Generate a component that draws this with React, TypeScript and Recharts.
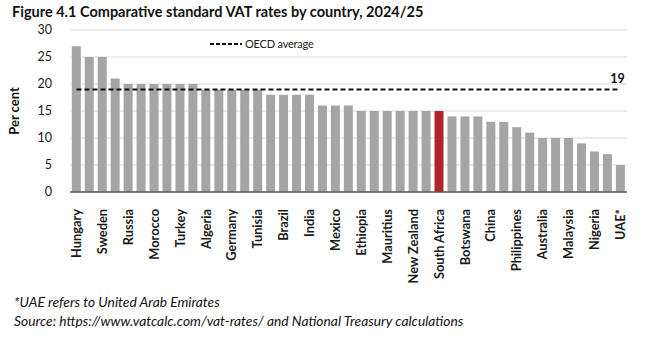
import { Bar, CartesianGrid, Cell, LabelList, Legend, Line, XAxis, YAxis, ComposedChart } from "recharts";

// Only every second bar is named in the source figure
const countries = [
  "Hungary", "", "Sweden", "", "Russia", "", "Morocco", "", "Turkey", "", "Algeria",
  "", "Germany", "", "Tunisia", "", "Brazil", "", "India", "", "Mexico", "",
  "Ethiopia", "", "Mauritius", "", "New Zealand", "", "South Africa", "", "Botswana",
  "", "China", "", "Philippines", "", "Australia", "", "Malaysia", "", "Nigeria", "", "UAE*",
];

const vatRates = [
  27, 25, 25, 21, 20, 20, 20, 20, 20, 20, 19,
  19, 19, 19, 19, 18, 18, 18, 18, 16, 16, 16,
  15, 15, 15, 15, 15, 15, 15, 14, 14,
  14, 13, 13, 12, 11, 10, 10, 10, 9, 7.5, 7, 5,
];

const oecdAverage = 19;
const highlight = "South Africa";
const yTicks = [0, 5, 10, 15, 20, 25, 30];

const data = countries.map((country, i) => ({
  country,
  rate: vatRates[i],
  oecd: oecdAverage,
}));

const FONT = "Lato, 'Open Sans', sans-serif";

const CountryTick = (props: any) => {
  const { x, y, payload } = props;
  if (!payload.value) return <g />;
  return (
    <text
      x={x + 4.5}
      y={y + 9}
      transform={`rotate(-90, ${x + 4.5}, ${y + 9})`}
      textAnchor="end"
      fontSize={12.8}
      fontWeight={700}
      fill="#1a1a1a"
      fontFamily={FONT}
    >
      {payload.value}
    </text>
  );
};

const OecdLegend = () => (
  <div style={{ display: "flex", alignItems: "center", fontFamily: FONT, fontSize: 11, letterSpacing: -0.2, color: "#222" }}>
    <svg width={34} height={10}>
      <line x1={1} y1={5} x2={33} y2={5} stroke="#111" strokeWidth={2} strokeDasharray="4 2" />
    </svg>
    <span style={{ marginLeft: 2 }}>OECD average</span>
  </div>
);

const LastLabel = (props: any) => {
  const { x, y, index } = props;
  if (index !== data.length - 1) return null;
  return (
    <text x={x - 3} y={y - 6} textAnchor="middle" fontSize={12.5} fontWeight={700} fill="#111" fontFamily={FONT}>
      {oecdAverage}
    </text>
  );
};

export default function App() {
  return (
    <div
      style={{
        position: "absolute",
        left: 0,
        top: 0,
        width: 660,
        height: 337,
        background: "#fff",
        fontFamily: FONT,
      }}
    >
      <div style={{ position: "absolute", left: 12, top: 3, fontSize: 14.5, fontWeight: 700, color: "#111" }}>
        Figure 4.1 Comparative standard VAT rates by country, 2024/25
      </div>

      <ComposedChart
        width={660}
        height={290}
        data={data}
        margin={{ top: 30, right: 33, bottom: 8, left: 0 }}
        barCategoryGap="14%"
        style={{ position: "absolute", left: 0, top: 0 }}
      >
        <CartesianGrid vertical={false} stroke="#d9d9d9" />
        <XAxis
          dataKey="country"
          interval={0}
          height={90}
          tickLine={false}
          axisLine={{ stroke: "#595959", strokeWidth: 1.5 }}
          tick={<CountryTick />}
        />
        <YAxis
          domain={[0, 30]}
          ticks={yTicks}
          width={70}
          axisLine={false}
          tickLine={false}
          tick={{ fontSize: 12.5, fill: "#1a1a1a", fontFamily: FONT }}
          tickMargin={12}
          label={{
            value: "Per cent",
            angle: -90,
            position: "insideLeft",
            offset: 14,
            style: { fontSize: 13, fontWeight: 700, fill: "#111", textAnchor: "middle" },
          }}
        />
        <Legend
          layout="horizontal"
          verticalAlign="middle"
          align="center"
          content={<OecdLegend />}
          wrapperStyle={{ top: 37, left: 209, width: "auto" }}
        />
        <Bar dataKey="rate" isAnimationActive={false}>
          {data.map((d, i) => (
            <Cell key={i} fill={d.country === highlight ? "#b0252a" : "#a5a5a8"} />
          ))}
        </Bar>
        <Line
          dataKey="oecd"
          stroke="#111"
          strokeWidth={2}
          strokeDasharray="5 3"
          dot={false}
          activeDot={false}
          isAnimationActive={false}
        >
          <LabelList dataKey="oecd" content={<LastLabel />} />
        </Line>
      </ComposedChart>

      <div style={{ position: "absolute", left: 14, top: 292, fontSize: 13.8, fontStyle: "italic", color: "#111", lineHeight: "19px" }}>
        <div>*UAE refers to United Arab Emirates</div>
        <div>Source: https://www.vatcalc.com/vat-rates/ and National Treasury calculations</div>
      </div>
    </div>
  );
}
